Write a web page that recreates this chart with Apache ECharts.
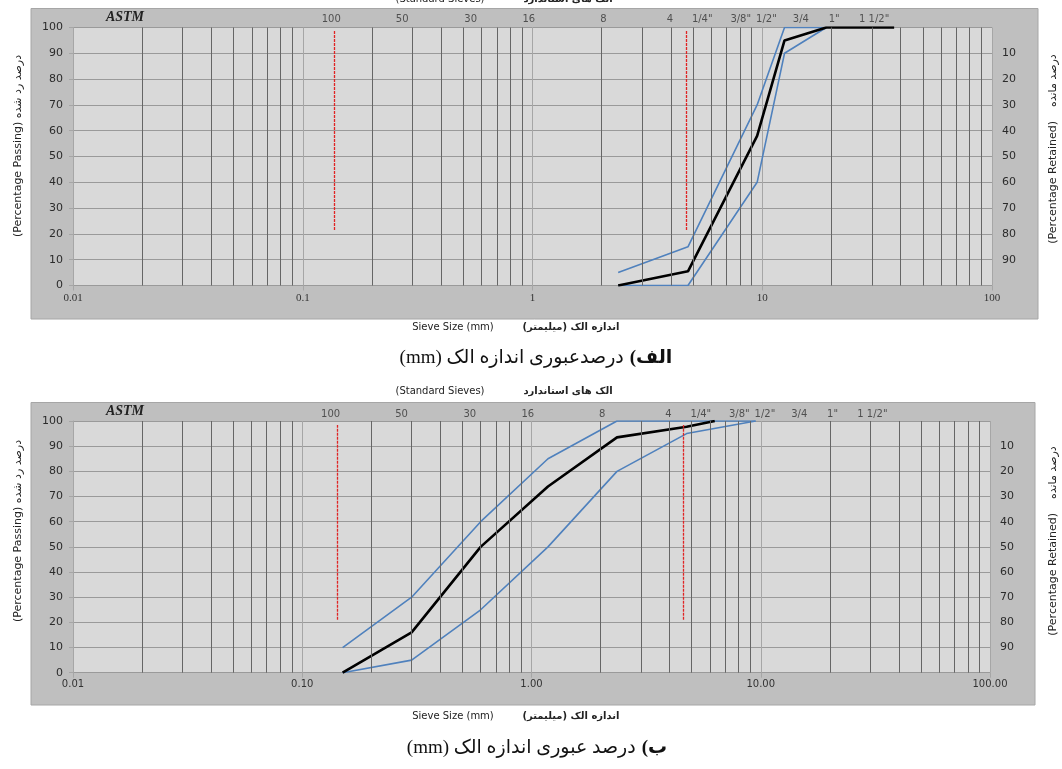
<!DOCTYPE html>
<html><head><meta charset="utf-8">
<script src="https://cdn.jsdelivr.net/npm/echarts@6/dist/echarts.min.js"></script>
<style>html,body{margin:0;padding:0;background:#fff}#c{width:1062px;height:769px}</style>
</head><body><div id="c"></div>
<script>
// ---- data (sieve size in mm, percent passing) ----
const topBlackSize = [2.36, 4.75, 9.5, 12.5, 19, 37.5];
const topBlackPass = [0, 5.5, 58, 95, 100, 100];
const topUpperSize = [2.36, 4.75, 9.5, 12.5, 19];
const topUpperPass = [5, 15, 70, 100, 100];
const topLowerSize = [2.36, 4.75, 9.5, 12.5, 19];
const topLowerPass = [0, 0, 40, 90, 100];

const botBlackSize = [0.15, 0.3, 0.6, 1.18, 2.36, 4.75, 6.3];
const botBlackPass = [0, 16, 50, 74, 93.5, 97.7, 100];
const botUpperSize = [0.15, 0.3, 0.6, 1.18, 2.36, 9.5];
const botUpperPass = [10, 30, 60, 85, 100, 100];
const botLowerSize = [0.15, 0.3, 0.6, 1.18, 2.36, 4.75, 9.5];
const botLowerPass = [0, 5, 25, 50, 80, 95, 100];

// standard sieve header labels and where they sit on the size axis (mm)
const sieveLabels = ['100', '50', '30', '16', '8', '4', '1/4"', '3/8"', '1/2"', '3/4', '1"', '1 1/2"'];
const sieveLabelPos = [0.133, 0.271, 0.538, 0.963, 2.035, 3.96, 5.48, 8.06, 10.43, 14.72, 20.56, 30.69];

// red reference lines (size mm, from %, to %)
const topRedSize = [0.1365, 4.67];
const topRedRange = [21.5, 99];
const botRedSize = [0.1425, 4.60];
const botRedRange = [21, 98.4];

// tick labels
const topXLabels = ['0.01', '0.1', '1', '10', '100'];
const botXLabels = ['0.01', '0.10', '1.00', '10.00', '100.00'];
const passTicks = [0, 10, 20, 30, 40, 50, 60, 70, 80, 90, 100];

// minor log grid values
const decades = [0.01, 0.1, 1, 10];
const minorMult = [2, 3, 4, 5, 6, 7, 8, 9];
const minorVals = [];
decades.forEach(d => minorMult.forEach(m => minorVals.push(+(d * m).toPrecision(3))));

const pair = (xs, ys) => xs.map((x, i) => [x, ys[i]]);
const FONT = 'DejaVu Sans, Verdana, sans-serif';
const BLUE = '#4f81bd';

const grids = [
  { left: 73, top: 27.5, width: 919, height: 258, show: true, backgroundColor: '#d9d9d9', borderWidth: 0 },
  { left: 73, top: 421, width: 917, height: 251.7, show: true, backgroundColor: '#d9d9d9', borderWidth: 0 }
];

function xAxis(gi, labels, labelFont, size) {
  return {
    type: 'log', logBase: 10, min: 0.01, max: 100, gridIndex: gi,
    axisLine: { show: false },
    axisTick: { show: true, length: 5, lineStyle: { color: '#a6a6a6' } },
    splitLine: { show: true, lineStyle: { color: '#a6a6a6', width: 1 } },
    axisLabel: {
      margin: 7, color: '#333', fontSize: size, fontFamily: labelFont,
      formatter: v => labels[Math.round(Math.log10(v)) + 2]
    }
  };
}
function yLeft(gi) {
  return {
    type: 'value', gridIndex: gi, min: 0, max: 100, interval: 10, position: 'left',
    axisLine: { show: true, lineStyle: { color: '#a6a6a6' } },
    axisTick: { show: true, length: 4, lineStyle: { color: '#a6a6a6' } },
    splitLine: { show: true, lineStyle: { color: '#9a9a9a', width: 1 } },
    axisLabel: { margin: 10, color: '#2b2b2b', fontSize: 11, fontFamily: FONT,
      formatter: v => passTicks.includes(v) ? String(v) : '' }
  };
}
function yRight(gi) {
  return {
    type: 'value', gridIndex: gi, min: 0, max: 100, interval: 10, position: 'right', inverse: true,
    axisLine: { show: false }, axisTick: { show: false }, splitLine: { show: false },
    axisLabel: { margin: 10, color: '#2b2b2b', fontSize: 11, fontFamily: FONT,
      formatter: v => (v === 0 || v === 100) ? '' : String(v) }
  };
}

function gridSeries(gi) {
  return {
    type: 'line', xAxisIndex: gi, yAxisIndex: gi * 2, data: [], silent: true, z: 1,
    markLine: {
      silent: true, symbol: 'none', animation: false, label: { show: false },
      lineStyle: { color: '#666666', width: 1, type: 'solid' },
      data: minorVals.map(v => ({ xAxis: v }))
    }
  };
}
function redSeries(gi, redSize, redRange) {
  return {
    type: 'line', xAxisIndex: gi, yAxisIndex: gi * 2, data: [], silent: true, z: 6,
    markLine: {
      silent: true, symbol: 'none', animation: false, label: { show: false },
      lineStyle: { color: '#e02424', width: 1.3, type: [3, 1], opacity: 1 },
      data: redSize.map(s => [{ coord: [s, redRange[0]] }, { coord: [s, redRange[1]] }])
    }
  };
}
function lineSeries(gi, data, color, width, z) {
  return {
    type: 'line', xAxisIndex: gi, yAxisIndex: gi * 2, data: data, symbol: 'none',
    lineStyle: { color: color, width: width }, z: z, animation: false, silent: true
  };
}
function headerSeries(gi, dist) {
  return {
    type: 'scatter', xAxisIndex: gi, yAxisIndex: gi * 2, symbolSize: 0, silent: true, z: 5,
    data: sieveLabelPos.map(p => [p, 100]),
    label: { show: true, position: 'top', distance: dist, color: '#333', fontSize: 10, fontFamily: FONT,
      formatter: p => sieveLabels[p.dataIndex] }
  };
}

// caption helper using measured widths (RTL)
const mctx = document.createElement('canvas').getContext('2d');
function measure(font, t) { mctx.font = font; return mctx.measureText(t).width; }
const RLE = '\u202B', PDF = '\u202C';
const capFontB = 'bold 19px "Liberation Serif", "DejaVu Sans", serif';
const capFont = '19px "Liberation Serif", "DejaVu Sans", serif';

function caption(y, boldTxt, restTxt, centerX) {
  const wb = measure(capFontB, RLE + boldTxt + PDF);
  const wr = measure(capFont, RLE + restTxt + PDF);
  const total = wb + 6 + wr;
  const right = centerX + total / 2;
  return [
    { type: 'text', x: right, y: y, z: 100, style: { text: RLE + boldTxt + PDF, font: capFontB, fill: '#111', align: 'right', verticalAlign: 'middle' } },
    { type: 'text', x: right - wb - 6, y: y, z: 100, style: { text: RLE + restTxt + PDF, font: capFont, fill: '#111', align: 'right', verticalAlign: 'middle' } }
  ];
}
function txt(x, y, text, opts) {
  return Object.assign({ type: 'text', x: x, y: y, z: 100,
    style: Object.assign({ text: text, font: '10px ' + FONT, fill: '#222', align: 'center', verticalAlign: 'middle' }, opts || {}) });
}
function rot(x, y, text) {
  return { type: 'text', x: x, y: y, rotation: Math.PI / 2, z: 100,
    style: { text: text, font: '11px ' + FONT, fill: '#222', align: 'center', verticalAlign: 'middle' } };
}

const graphics = [
  { type: 'rect', z: -10, shape: { x: 31, y: 8.5, width: 1007, height: 310.5 }, style: { fill: '#bfbfbf', stroke: '#a6a6a6', lineWidth: 1 } },
  { type: 'rect', z: -10, shape: { x: 31, y: 402.5, width: 1004, height: 302.5 }, style: { fill: '#bfbfbf', stroke: '#a6a6a6', lineWidth: 1 } },
  txt(125, 17, 'ASTM', { font: 'italic bold 14px "Liberation Serif", serif', fill: '#222' }),
  txt(125, 411, 'ASTM', { font: 'italic bold 14px "Liberation Serif", serif', fill: '#222' }),
  // header titles
  txt(440, -1, '(Standard Sieves)'),
  txt(568, -1, RLE + 'الک های استاندارد' + PDF, { font: 'bold 10px ' + FONT }),
  txt(440, 391, '(Standard Sieves)'),
  txt(568, 391, RLE + 'الک های استاندارد' + PDF, { font: 'bold 10px ' + FONT }),
  // x axis titles
  txt(453, 327.5, 'Sieve Size (mm)'),
  txt(571, 327.5, RLE + 'اندازه الک (میلیمتر)' + PDF, { font: 'bold 10px ' + FONT }),
  txt(453, 716, 'Sieve Size (mm)'),
  txt(571, 716, RLE + 'اندازه الک (میلیمتر)' + PDF, { font: 'bold 10px ' + FONT }),
  // y axis titles
  rot(18, 146, '(Percentage Passing) درصد رد شده'),
  rot(18, 531, '(Percentage Passing) درصد رد شده'),
  rot(1053, 149, '(Percentage Retained)    درصد مانده'),
  rot(1053, 541, '(Percentage Retained)    درصد مانده')
].concat(
  caption(358, 'الف)', 'درصدعبوری اندازه الک (mm)', 536),
  caption(748, 'ب)', 'درصد عبوری اندازه الک (mm)', 537)
);

const chart = echarts.init(document.getElementById('c'), null, { renderer: 'canvas' });
chart.setOption({
  animation: false,
  backgroundColor: '#ffffff',
  grid: grids,
  xAxis: [xAxis(0, topXLabels, '"Liberation Serif", serif', 11), xAxis(1, botXLabels, FONT, 10)],
  yAxis: [yLeft(0), yRight(0), yLeft(1), yRight(1)],
  graphic: graphics,
  series: [
    gridSeries(0),
    gridSeries(1),
    redSeries(0, topRedSize, topRedRange),
    redSeries(1, botRedSize, botRedRange),
    lineSeries(0, pair(topUpperSize, topUpperPass), BLUE, 1.6, 3),
    lineSeries(0, pair(topLowerSize, topLowerPass), BLUE, 1.6, 3),
    lineSeries(0, pair(topBlackSize, topBlackPass), '#000', 2.6, 4),
    lineSeries(1, pair(botUpperSize, botUpperPass), BLUE, 1.6, 3),
    lineSeries(1, pair(botLowerSize, botLowerPass), BLUE, 1.6, 3),
    lineSeries(1, pair(botBlackSize, botBlackPass), '#000', 2.6, 4),
    headerSeries(0, 3),
    headerSeries(1, 2)
  ]
});
</script></body></html>
